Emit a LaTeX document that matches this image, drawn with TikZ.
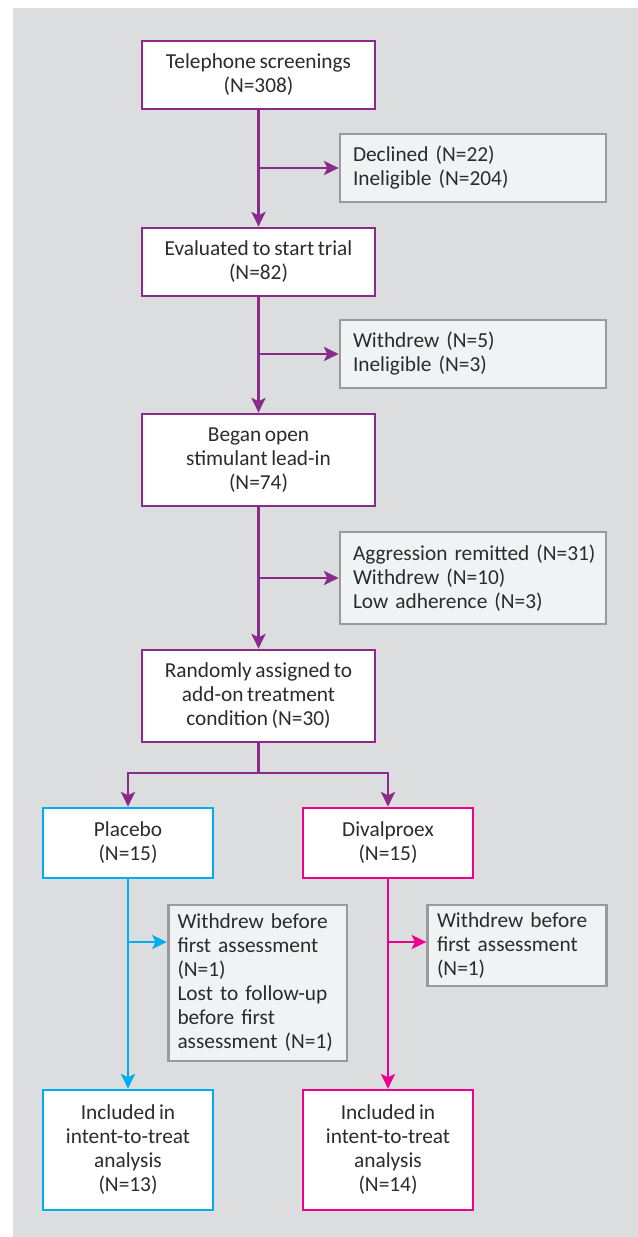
\documentclass[tikz,border=0pt]{standalone}
\usepackage{fontspec}
\setmainfont{Carlito}[WordSpace=0.75]
\usetikzlibrary{arrows.meta,positioning}
\definecolor{flowpurple}{HTML}{8C2A8C}
\definecolor{flowcyan}{HTML}{00AEEF}
\definecolor{flowpink}{HTML}{EC008C}
\definecolor{bggray}{HTML}{DCDDDF}
\definecolor{boxgray}{HTML}{F1F2F4}
\definecolor{rulegray}{HTML}{9A9A9A}
\definecolor{txtgray}{HTML}{2B2B2B}
\tikzset{every picture/.style={line width=1.5pt}}
\tikzset{
  flowtext/.style={font=\fontsize{16pt}{18pt}\selectfont, text=txtgray},
  mainbox/.style={flowtext, draw=flowpurple, fill=white, line width=2pt, align=center,
    minimum width=174.75pt, minimum height=51pt, inner sep=0pt},
  armbox/.style={flowtext, fill=white, line width=2pt, align=center,
    minimum width=127.5pt, minimum height=52.5pt, inner sep=0pt},
  sidebox/.style={flowtext, draw=rulegray, fill=boxgray, line width=2pt, align=left,
    text width=180pt, inner xsep=9.75pt, inner ysep=0pt, minimum height=51pt},
  smallbox/.style={flowtext, draw=rulegray, fill=boxgray, line width=2pt, align=left,
    text width=120pt, inner xsep=7pt, inner ysep=0pt},
  flowarrow/.style={-{Stealth[length=11pt,width=10.5pt,inset=2.5pt]}, line width=1.9pt}
}

\begin{document}
\begin{tikzpicture}[x=0.75pt,y=-0.75pt]
\useasboundingbox (0,0) rectangle (638,1237);
\fill[bggray] (13,8) rectangle (638,1237);
%
\node[mainbox] (phone) at (258.5,75) {Telephone screenings\\(N=308)};
\node[sidebox] (decl) at (473,168) {Declined (N=22)\\Ineligible (N=204)};
\node[mainbox] (eval) at (258.5,262) {Evaluated to start trial\\(N=82)};
\node[sidebox] (wdr) at (473,354) {Withdrew (N=5)\\Ineligible (N=3)};
\node[mainbox, minimum height=69pt] (leadin) at (258.5,460) {Began open\\stimulant lead-in\\(N=74)};
\node[sidebox, minimum height=69pt] (aggr) at (473,578) {\mbox{Aggression remitted (N=31)}\\Withdrew (N=10)\\Low adherence (N=3)};
\node[mainbox, minimum height=69pt] (rand) at (258.5,696) {Randomly assigned to\\add-on treatment\\condition (N=30)};
%
\node[armbox, draw=flowcyan] (plac) at (128,843) {Placebo\\(N=15)};
\node[armbox, draw=flowpink] (dival) at (388,843) {Divalproex\\(N=15)};
\node[smallbox, minimum height=117pt] (placout) at (257.5,983) {Withdrew before\\first assessment\\(N=1)\\Lost to follow-up\\before first\\assessment (N=1)};
\node[smallbox, minimum height=60.75pt] (divout) at (517,945.5) {Withdrew before\\first assessment\\(N=1)};
\node[armbox, draw=flowcyan, minimum height=90pt] (placitt) at (128,1150) {Included in\\intent-to-treat\\analysis\\(N=13)};
\node[armbox, draw=flowpink, minimum height=90pt] (divitt) at (388,1150) {Included in\\intent-to-treat\\analysis\\(N=14)};
%
\coordinate (b1) at (phone.south |- decl.west);
\coordinate (b2) at (eval.south |- wdr.west);
\coordinate (b3) at (leadin.south |- aggr.west);
\coordinate (split) at (258.5,773);
\coordinate (b4) at (128,942);
\coordinate (b5) at (388,942);
%
\draw[flowpurple, flowarrow] (phone) -- (eval);
\draw[flowpurple, flowarrow] (b1) -- (decl);
\draw[flowpurple, flowarrow] (eval) -- (leadin);
\draw[flowpurple, flowarrow] (b2) -- (wdr);
\draw[flowpurple, flowarrow] (leadin) -- (rand);
\draw[flowpurple, flowarrow] (b3) -- (aggr);
\draw[flowpurple, line width=1.9pt] (rand) -- (split);
\draw[flowpurple, flowarrow] (split) -| (plac);
\draw[flowpurple, flowarrow] (split) -| (dival);
%
\draw[flowcyan, flowarrow] (plac) -- (placitt);
\draw[flowcyan, flowarrow] (b4) -- (b4 -| placout.west);
\draw[flowpink, flowarrow] (dival) -- (divitt);
\draw[flowpink, flowarrow] (b5) -- (b5 -| divout.west);
\end{tikzpicture}
\end{document}
